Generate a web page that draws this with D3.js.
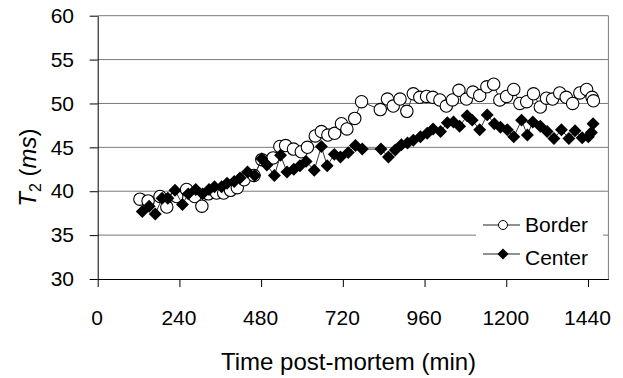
<!DOCTYPE html>
<html>
<head>
<meta charset="utf-8">
<script src="https://cdn.jsdelivr.net/npm/d3@7"></script>
<style>
  html, body { margin: 0; padding: 0; background: #fff; }
  svg { display: block; font-family: "Liberation Sans", Arial, sans-serif; }
</style>
</head>
<body>
<svg id="chart" width="623" height="378"></svg>
<script>
// T2 vs time post-mortem, border and center of the sample.
const xTicks = [0, 240, 480, 720, 960, 1200, 1440];
const yTicks = [30, 35, 40, 45, 50, 55, 60];
const seriesNames = ["Border", "Center"];

const borderTime = [124, 148, 183, 203, 232, 261, 285, 306, 325, 349, 370, 390, 410, 430, 459,
  482, 515, 535, 552, 575, 598, 616, 639, 657, 676, 696, 716, 732, 755, 775,
  830, 851, 868, 888, 908, 927, 946, 966, 984, 1005, 1024, 1042, 1061, 1083, 1102,
  1122, 1143, 1163, 1181, 1201, 1222, 1240, 1260, 1280, 1300, 1318, 1336, 1357, 1376, 1395,
  1416, 1436, 1452, 1456];
const borderT2 = [39.1, 38.9, 39.4, 38.2, 39.4, 40.2, 39.4, 38.3, 39.7, 39.8, 39.8, 40.1, 40.4, 41.3, 41.8,
  43.6, 43.8, 45.1, 45.2, 44.8, 44.5, 45.0, 46.3, 46.8, 46.4, 46.6, 47.7, 47.1, 48.3, 50.2,
  49.3, 50.5, 49.7, 50.5, 49.1, 51.1, 50.7, 50.8, 50.7, 50.4, 49.7, 50.4, 51.5, 50.5, 51.3,
  50.9, 51.9, 52.2, 50.4, 50.8, 51.6, 50.0, 50.2, 51.1, 49.6, 50.6, 50.5, 51.2, 50.7, 50.0,
  51.2, 51.6, 50.7, 50.3];

const centerTime = [131, 151, 169, 189, 206, 227, 249, 266, 288, 308, 327, 343, 364, 380, 401,
  418, 440, 461, 482, 497, 519, 537, 556, 576, 594, 612, 636, 657, 674, 695,
  713, 736, 757, 777, 832, 854, 874, 892, 910, 927, 948, 968, 985, 1007, 1027,
  1045, 1063, 1085, 1100, 1122, 1144, 1165, 1183, 1203, 1222, 1245, 1262, 1278, 1300, 1320,
  1340, 1362, 1384, 1402, 1423, 1441, 1450, 1455];
const centerT2 = [37.7, 38.3, 37.4, 39.2, 39.2, 40.1, 38.5, 39.7, 40.2, 39.7, 40.2, 40.5, 40.5, 40.9, 41.1,
  41.5, 42.2, 41.8, 43.7, 43.0, 41.8, 44.1, 42.2, 42.5, 42.9, 43.4, 42.4, 45.1, 42.9, 44.2,
  43.9, 44.4, 45.2, 44.8, 44.8, 43.9, 44.7, 45.3, 45.5, 45.8, 46.2, 46.6, 47.1, 46.8, 47.8,
  47.9, 47.4, 48.6, 48.1, 47.0, 48.7, 47.7, 47.3, 47.0, 46.2, 48.1, 46.4, 47.9, 47.4, 46.8,
  46.0, 47.0, 46.0, 46.9, 46.1, 46.2, 46.7, 47.7];

(function () {
  "use strict";
  const svg = d3.select("#chart");
  const left = 97.7, right = 608.4, top = 15.7, bottom = 279;

  const x = d3.scaleLinear().domain([0, 1500]).range([left, right]);
  const y = d3.scaleLinear().domain([30, 60]).range([bottom, top]);

  const border = borderTime.map((t, i) => ({ t, v: borderT2[i] }));
  const center = centerTime.map((t, i) => ({ t, v: centerT2[i] }));

  // gridlines + right frame
  svg.append("g")
    .selectAll("line")
    .data(yTicks.slice(1))
    .join("line")
    .attr("x1", left).attr("x2", right)
    .attr("y1", (d) => y(d)).attr("y2", (d) => y(d))
    .attr("stroke", "#7a7a7a")
    .attr("stroke-width", 1);
  svg.append("line")
    .attr("x1", right).attr("x2", right)
    .attr("y1", top).attr("y2", bottom)
    .attr("stroke", "#7a7a7a");

  const yAxis = svg.append("g")
    .attr("transform", `translate(${left},0)`)
    .call(d3.axisLeft(y).tickValues(yTicks).tickSize(8).tickSizeOuter(0).tickPadding(15.7));
  const xAxis = svg.append("g")
    .attr("transform", `translate(0,${bottom})`)
    .call(d3.axisBottom(x).tickValues(xTicks).tickFormat(d3.format("d"))
      .tickSize(8).tickSizeOuter(0).tickPadding(23));
  [yAxis, xAxis].forEach((g) => {
    g.attr("font-family", null).attr("font-size", null);
    g.select(".domain").attr("stroke", "#000");
    g.selectAll(".tick line").attr("stroke", "#000");
    g.selectAll(".tick text").attr("fill", "#000").style("font-size", "21px");
  });
  xAxis.selectAll(".tick text").attr("dx", -1);

  const line = d3.line().x((d) => x(d.t)).y((d) => y(d.v));

  // Border: open circles
  svg.append("path")
    .datum(border)
    .attr("d", line)
    .attr("fill", "none")
    .attr("stroke", "#333")
    .attr("stroke-width", 1);
  svg.append("g")
    .selectAll("circle")
    .data(border)
    .join("circle")
    .attr("cx", (d) => x(d.t))
    .attr("cy", (d) => y(d.v))
    .attr("r", 6.2)
    .attr("fill", "#fff")
    .attr("stroke", "#000")
    .attr("stroke-width", 1.1);

  // Center: filled diamonds
  const diamond = d3.symbol().type(d3.symbolSquare).size(84)();
  svg.append("path")
    .datum(center)
    .attr("d", line)
    .attr("fill", "none")
    .attr("stroke", "#333")
    .attr("stroke-width", 1);
  svg.append("g")
    .selectAll("path")
    .data(center)
    .join("path")
    .attr("d", diamond)
    .attr("transform", (d) => `translate(${x(d.t)},${y(d.v)}) rotate(45)`)
    .attr("fill", "#000");

  // legend
  const leg = svg.append("g");
  leg.append("rect")
    .attr("x", 476).attr("y", 204).attr("width", 127).attr("height", 70)
    .attr("fill", "#fff");
  const rows = [{ name: seriesNames[0], ly: 225, ty: 232 }, { name: seriesNames[1], ly: 254, ty: 265 }];
  rows.forEach((r, i) => {
    leg.append("line")
      .attr("x1", 483).attr("x2", 520).attr("y1", r.ly).attr("y2", r.ly)
      .attr("stroke", "#222");
    if (i === 0) {
      leg.append("circle").attr("cx", 503).attr("cy", r.ly).attr("r", 4.5)
        .attr("fill", "#fff").attr("stroke", "#000");
    } else {
      leg.append("path")
        .attr("d", d3.symbol().type(d3.symbolSquare).size(62)())
        .attr("transform", `translate(503,${r.ly}) rotate(45)`)
        .attr("fill", "#000");
    }
    leg.append("text")
      .attr("x", 525).attr("y", r.ty)
      .style("font-size", "21px")
      .text(r.name);
  });

  // axis titles
  svg.append("text")
    .attr("x", 348.5).attr("y", 370)
    .attr("text-anchor", "middle")
    .style("font-size", "24px")
    .text("Time post-mortem (min)");

  const yt = svg.append("text")
    .attr("transform", "translate(36,167.5) rotate(-90)")
    .attr("text-anchor", "middle")
    .style("font-size", "24px");
  yt.append("tspan").attr("font-style", "italic").text("T");
  yt.append("tspan").attr("dy", 5).style("font-size", "16px").text("2");
  yt.append("tspan").attr("dy", -5).text(" (");
  yt.append("tspan").attr("font-style", "italic").text("ms");
  yt.append("tspan").text(")");
})();
</script>
</body>
</html>
